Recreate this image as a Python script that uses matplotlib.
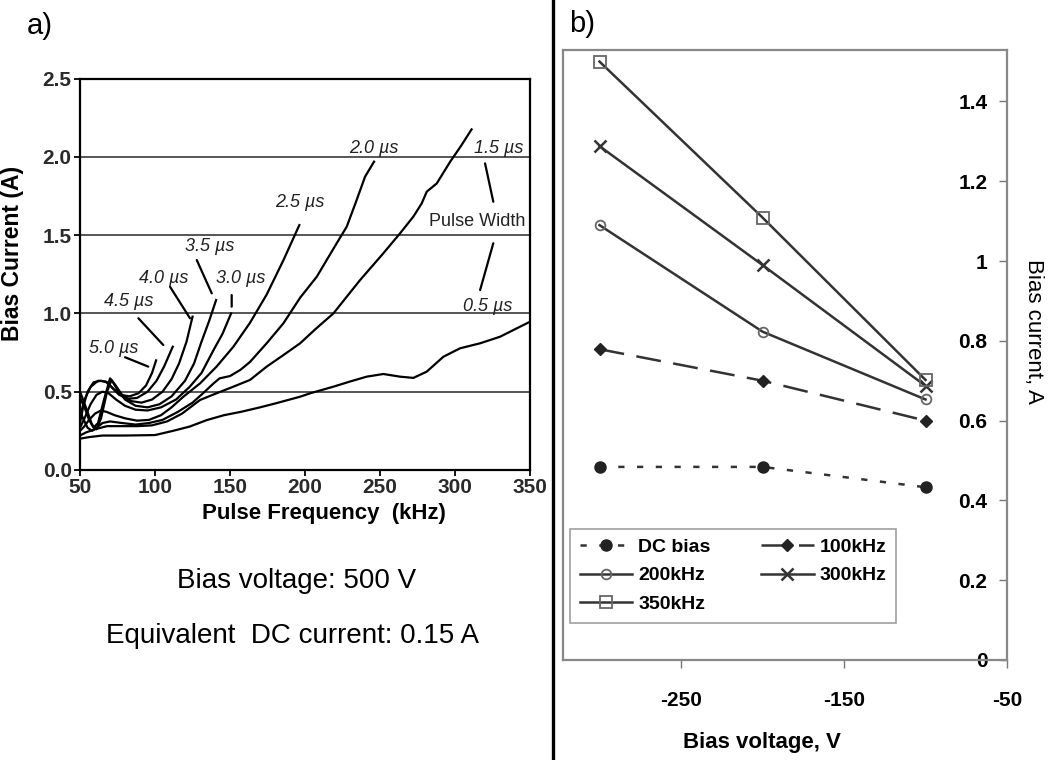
import matplotlib

matplotlib.use("Agg")

import matplotlib.pyplot as plt
from matplotlib.lines import Line2D


plt.rcParams["font.family"] = ["Liberation Sans", "DejaVu Sans"]
plt.rcParams["axes.unicode_minus"] = False

# ---- panel a: bias current (A) vs pulse frequency (kHz), per pulse width ----
F_5_0 = [50, 52, 55, 59, 64, 68, 72, 77, 83, 89, 94, 98, 100.7]
I_5_0 = [0.30, 0.40, 0.50, 0.56, 0.57, 0.56, 0.52, 0.48, 0.47, 0.49, 0.54, 0.62, 0.70]

F_4_5 = [50, 53, 57, 62, 67, 71, 76, 82, 88, 95, 101, 106, 111.8]
I_4_5 = [0.34, 0.45, 0.53, 0.57, 0.565, 0.53, 0.48, 0.455, 0.46, 0.50, 0.57, 0.66, 0.787]

F_4_0 = [50, 53, 56, 59, 62, 66, 70, 73, 78, 84, 91, 98, 105, 111, 116, 121, 125]
I_4_0 = [0.46, 0.40, 0.32, 0.27, 0.30, 0.45, 0.585, 0.55, 0.48, 0.44, 0.43, 0.45,
         0.50, 0.58, 0.68, 0.82, 0.979]

F_3_5 = [50, 52, 55, 58, 61, 64, 68, 71, 75, 80, 87, 95, 103, 111, 120, 126, 131, 136, 140.7]
I_3_5 = [0.50, 0.45, 0.37, 0.29, 0.26, 0.33, 0.50, 0.575, 0.51, 0.45, 0.41, 0.40,
         0.42, 0.47, 0.57, 0.68, 0.82, 0.95, 1.085]

F_3_0 = [50, 53, 57, 61, 65, 69, 74, 80, 87, 95, 104, 114, 123, 131, 139, 145, 150.7]
I_3_0 = [0.27, 0.33, 0.42, 0.48, 0.50, 0.49, 0.45, 0.41, 0.385, 0.38, 0.40, 0.45,
         0.53, 0.62, 0.766, 0.87, 1.0]

F_2_5 = [50, 53, 56, 60, 64, 68, 73, 80, 88, 96, 104, 111, 118.9, 130, 141, 152.2,
         163.3, 174.4, 185.6, 196.2]
I_2_5 = [0.25, 0.28, 0.32, 0.36, 0.38, 0.37, 0.35, 0.33, 0.315, 0.32, 0.35, 0.40,
         0.468, 0.553, 0.66, 0.787, 0.94, 1.12, 1.34, 1.564]

F_2_0 = [50, 52, 55, 58, 61, 65, 70, 78, 87, 96, 105, 115, 125, 132, 139, 143, 150,
         157, 163.3, 174.4, 185.6, 196.7, 207.8, 221.1, 227.8, 234.4, 240, 246]
I_2_0 = [0.38, 0.33, 0.27, 0.25, 0.27, 0.30, 0.31, 0.30, 0.29, 0.30, 0.32, 0.37,
         0.43, 0.49, 0.553, 0.585, 0.60, 0.64, 0.69, 0.809, 0.937, 1.10, 1.234,
         1.448, 1.554, 1.724, 1.873, 1.969]

F_1_5 = [50, 54, 60, 68, 78, 88, 98, 108, 118, 130, 141, 152.2, 163.3, 174.4, 185,
         196.7, 207, 218.9, 236.7, 252.2, 263.3, 272.2, 277.8, 281.1, 287.8, 296.7,
         304, 311]
I_1_5 = [0.22, 0.24, 0.26, 0.28, 0.28, 0.28, 0.285, 0.31, 0.36, 0.447, 0.49, 0.532,
         0.575, 0.66, 0.73, 0.809, 0.90, 1.0, 1.213, 1.384, 1.511, 1.618, 1.703,
         1.777, 1.83, 1.968, 2.07, 2.175]

F_0_5 = [50, 56, 65, 80, 100, 112, 123, 134.6, 146, 157.6, 170, 180.6, 196.7, 203.5,
         218.9, 230, 241.1, 252.2, 263.3, 272.2, 281.1, 292.2, 303.3, 316.7, 330,
         343.3, 350]
I_0_5 = [0.20, 0.21, 0.22, 0.22, 0.223, 0.25, 0.277, 0.319, 0.35, 0.372, 0.40,
         0.426, 0.468, 0.49, 0.532, 0.565, 0.596, 0.613, 0.596, 0.588, 0.628, 0.723,
         0.777, 0.809, 0.851, 0.915, 0.947]

PW_LABELS = ["5.0 \u00b5s", "4.5 \u00b5s", "4.0 \u00b5s", "3.5 \u00b5s", "3.0 \u00b5s",
             "2.5 \u00b5s", "2.0 \u00b5s", "1.5 \u00b5s", "0.5 \u00b5s"]

A_XTICKS = [50, 100, 150, 200, 250, 300, 350]
A_YTICKS = [0.0, 0.5, 1.0, 1.5, 2.0, 2.5]
A_GRID = [0.5, 1.0, 1.5, 2.0]

# ---- panel b: bias current (A) vs bias voltage (V) ----
VOLTAGE = [-300, -200, -100]
DC_BIAS = [0.484, 0.484, 0.433]
KHZ_100 = [0.779, 0.700, 0.600]
KHZ_200 = [1.090, 0.823, 0.653]
KHZ_300 = [1.288, 0.990, 0.687]
KHZ_350 = [1.500, 1.109, 0.702]

B_XTICKS = [-250, -150, -50]
B_YTICKS = [0, 0.2, 0.4, 0.6, 0.8, 1.0, 1.2, 1.4]
B_YTICK_LABELS = ["0", "0.2", "0.4", "0.6", "0.8", "1", "1.2", "1.4"]


def draw_panel_a(fig):
    ax = fig.add_axes([0.0763, 0.3816, 0.429, 0.5151])

    for y in A_GRID:
        ax.axhline(y, color="#555555", lw=1.4, zorder=1)

    curves = [
        (F_5_0, I_5_0), (F_4_5, I_4_5), (F_4_0, I_4_0), (F_3_5, I_3_5),
        (F_3_0, I_3_0), (F_2_5, I_2_5), (F_2_0, I_2_0), (F_1_5, I_1_5),
        (F_0_5, I_0_5),
    ]
    for freqs, currents in curves:
        ax.plot(freqs, currents, color="black", lw=1.6, zorder=3)

    # pulse width labels and their leader lines
    label_pos = [(72.7, 0.779), (82.7, 1.073), (106, 1.226), (136.7, 1.424),
                 (157.3, 1.226), (196.7, 1.711), (246, 2.05), (329.3, 2.05),
                 (322, 1.047)]
    for text, (x, y) in zip(PW_LABELS, label_pos):
        ax.text(x, y, text, fontsize=13, style="italic", ha="center", va="center",
                color="#222222", zorder=4)

    leaders = [
        ((80, 0.72), (95.5, 0.66)),
        ((88.9, 0.969), (105.5, 0.798)),
        ((110, 1.17), (123.3, 0.969)),
        ((127.8, 1.341), (137.8, 1.128)),
        ((151.1, 1.117), (151.1, 1.043)),
        ((320, 1.958), (325.5, 1.713)),
        ((325.5, 1.448), (316.7, 1.149)),
    ]
    for start, end in leaders:
        ax.annotate("", xy=end, xytext=start,
                    arrowprops=dict(arrowstyle="-", color="black", lw=1.6,
                                    shrinkA=0, shrinkB=0))

    ax.text(314.7, 1.584, "Pulse Width", fontsize=13, ha="center", va="center",
            color="#222222", zorder=4)

    ax.set_xlim(50, 350)
    ax.set_ylim(0, 2.5)
    ax.set_xticks(A_XTICKS)
    ax.set_yticks(A_YTICKS)
    ax.set_yticklabels([f"{v:.1f}" for v in A_YTICKS])
    ax.tick_params(direction="out", length=4, width=1.3, labelsize=15,
                   labelcolor="#2a2a2a", pad=2)
    for label in ax.get_xticklabels() + ax.get_yticklabels():
        label.set_fontweight("bold")
    for spine in ax.spines.values():
        spine.set_linewidth(1.6)

    ax.set_xlabel("Pulse Frequency  (kHz)", fontsize=16, fontweight="bold")
    ax.xaxis.set_label_coords(0.541, -0.085)
    ax.set_ylabel("Bias Current (A)", fontsize=16.5, fontweight="bold")
    ax.yaxis.set_label_coords(-0.124, 0.554)


def draw_panel_b(fig):
    ax = fig.add_axes([0.5367, 0.1316, 0.4233, 0.8026])
    line_color = "#333333"

    ax.plot(VOLTAGE, DC_BIAS, color=line_color, lw=1.8, dashes=(2.5, 5),
            marker="o", ms=8, mfc="#222222", mec="#222222", label="DC bias")
    ax.plot(VOLTAGE, KHZ_100, color=line_color, lw=1.8, dashes=(10, 5),
            marker="D", ms=6, mfc="#222222", mec="#222222", label="100kHz")
    ax.plot(VOLTAGE, KHZ_200, color=line_color, lw=1.8, marker="o", ms=7,
            mfc="none", mec="#666666", mew=1.3, label="200kHz")
    ax.plot(VOLTAGE, KHZ_300, color=line_color, lw=1.8, marker="x", ms=9,
            mec="#333333", mew=1.8, label="300kHz")
    ax.plot(VOLTAGE, KHZ_350, color=line_color, lw=1.8, marker="s", ms=8,
            mfc="none", mec="#666666", mew=1.3, label="350kHz")

    ax.set_xlim(-322.4, -50)
    ax.set_ylim(0, 1.529)
    ax.set_xticks(B_XTICKS)
    ax.set_yticks(B_YTICKS)
    ax.set_yticklabels(B_YTICK_LABELS)
    ax.yaxis.tick_right()
    ax.tick_params(axis="y", direction="in", length=6, width=1, color="#777777",
                   labelsize=15, pad=-14)
    for label in ax.get_yticklabels():
        label.set_horizontalalignment("right")
        label.set_fontweight("bold")
    ax.tick_params(axis="x", direction="out", length=6, width=1, color="#777777",
                   labelsize=15, pad=16)
    for label in ax.get_xticklabels():
        label.set_fontweight("bold")

    for spine in ax.spines.values():
        spine.set_color("#888888")
        spine.set_linewidth(1.6)

    ax.yaxis.set_label_position("right")
    ax.set_ylabel("Bias current, A", fontsize=16, rotation=-90, va="center")
    ax.yaxis.set_label_coords(1.059, 0.538)
    ax.set_xlabel("Bias voltage, V", fontsize=16, fontweight="bold", va="center")
    ax.xaxis.set_label_coords(0.448, -0.136)

    handles, labels = ax.get_legend_handles_labels()
    order = [0, 2, 4, 1, 3]
    leg = ax.legend(
        [handles[i] for i in order],
        [labels[i] for i in order],
        ncol=2,
        loc="upper left",
        bbox_to_anchor=(0.016, 0.215),
        prop={"weight": "bold", "size": 14},
        frameon=True,
        fancybox=False,
        edgecolor="#888888",
        handlelength=2.7,
        handletextpad=0.3,
        columnspacing=2.6,
        labelspacing=0.55,
        borderpad=0.5,
        borderaxespad=0,
    )
    leg.get_frame().set_linewidth(1.2)


def main():
    fig = plt.figure(figsize=(10.49, 7.60), dpi=100)

    draw_panel_a(fig)
    draw_panel_b(fig)

    fig.text(40 / 1049, 1 - 26 / 760, "a)", fontsize=21, ha="center", va="center")
    fig.text(582 / 1049, 1 - 24 / 760, "b)", fontsize=21, ha="center", va="center")

    fig.text(296.5 / 1049, 1 - 581 / 760, "Bias voltage: 500 V", fontsize=20,
             ha="center", va="center")
    fig.text(292.5 / 1049, 1 - 636 / 760, "Equivalent  DC current: 0.15 A",
             fontsize=20, ha="center", va="center")

    fig.add_artist(Line2D([553 / 1049, 553 / 1049], [0, 1], color="black", lw=2.4,
                          transform=fig.transFigure))

    fig.savefig("out.png", dpi=100)
    plt.close(fig)


if __name__ == "__main__":
    main()
